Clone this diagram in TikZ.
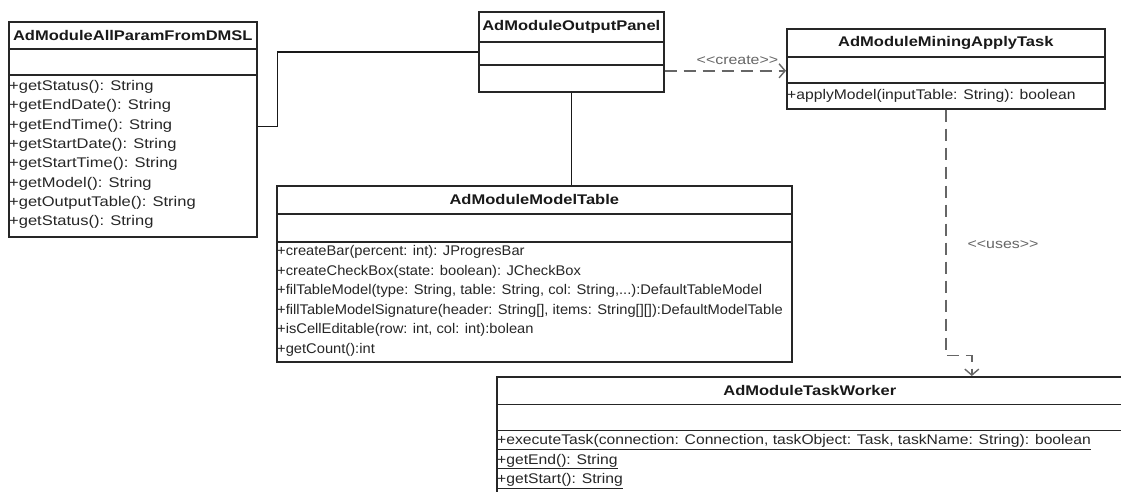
\documentclass[tikz,border=0pt]{standalone}
\usepackage{fontspec}
\setmainfont{Liberation Sans}[FakeStretch=1.18]
\newfontfamily\midfont{Liberation Sans}[FakeStretch=1.12]
\newfontfamily\narrowfont{Liberation Sans}[FakeStretch=1.05]
\usetikzlibrary{arrows.meta,calc}
\begin{document}
\begin{tikzpicture}[x=1pt,y=-1pt,
  cls/.style={draw=black!85, line width=1.6pt, inner sep=0pt, anchor=north west},
  sepline/.style={draw=black!85, line width=1.6pt},
  conn/.style={draw=black!90, line width=1.4pt},
  dep/.style={draw=black!60, line width=1.6pt, dash pattern=on 12pt off 7pt,
    -{Straight Barb[length=6pt,width=14pt,line width=1.4pt]}},
  ttl/.style={font=\fontsize{14}{16}\selectfont\bfseries, text=black!90, inner sep=0pt, anchor=center},
  mth/.style={font=\fontsize{14}{16}\selectfont, text=black!85, inner sep=0pt, anchor=west},
  mthm/.style={mth, font=\fontsize{14}{16}\selectfont\midfont},
  mthn/.style={mth, font=\fontsize{14}{16}\selectfont\narrowfont},
  lbl/.style={font=\fontsize{13.5}{15}\selectfont, text=black!60, inner sep=0pt, anchor=center}
]
\useasboundingbox (0,0) rectangle (1121,491);
\clip (0,0) rectangle (1121,491);
\fill[white] (0,0) rectangle (1121,491);

% ---- AdModuleAllParamFromDMSL
\node[cls, minimum width=248pt, minimum height=215pt] (dmsl) at (8,21) {};
\draw[sepline] ([yshift=-28pt]dmsl.north west) -- ([yshift=-28pt]dmsl.north east);
\draw[sepline] ([yshift=-54pt]dmsl.north west) -- ([yshift=-54pt]dmsl.north east);
\node[ttl] (dmslT) at ([yshift=-14pt]dmsl.north) {AdModuleAllParamFromDMSL};
\node[mth] (d1) at ([xshift=1pt,yshift=-66pt]dmsl.north west) {+getStatus(): String};
\node[mth] (d2) at ([xshift=1pt,yshift=-85.3pt]dmsl.north west) {+getEndDate(): String};
\node[mth] (d3) at ([xshift=1pt,yshift=-104.6pt]dmsl.north west) {+getEndTime(): String};
\node[mth] (d4) at ([xshift=1pt,yshift=-123.9pt]dmsl.north west) {+getStartDate(): String};
\node[mth] (d5) at ([xshift=1pt,yshift=-143.2pt]dmsl.north west) {+getStartTime(): String};
\node[mth] (d6) at ([xshift=1pt,yshift=-162.5pt]dmsl.north west) {+getModel(): String};
\node[mth] (d7) at ([xshift=1pt,yshift=-181.8pt]dmsl.north west) {+getOutputTable(): String};
\node[mth] (d8) at ([xshift=1pt,yshift=-201.1pt]dmsl.north west) {+getStatus(): String};

% ---- AdModuleOutputPanel
\node[cls, minimum width=185pt, minimum height=80pt] (panel) at (478,11) {};
\draw[sepline] ([yshift=-31pt]panel.north west) -- ([yshift=-31pt]panel.north east);
\draw[sepline] ([yshift=-54pt]panel.north west) -- ([yshift=-54pt]panel.north east);
\node[ttl] (panelT) at ([yshift=-15.5pt]panel.north) {AdModuleOutputPanel};

% ---- AdModuleMiningApplyTask
\node[cls, minimum width=318pt, minimum height=80pt] (mat) at (786,28) {};
\draw[sepline] ([yshift=-29pt]mat.north west) -- ([yshift=-29pt]mat.north east);
\draw[sepline] ([yshift=-55pt]mat.north west) -- ([yshift=-55pt]mat.north east);
\node[ttl] (matT) at ([yshift=-14.5pt]mat.north) {AdModuleMiningApplyTask};
\node[mthm] (m1) at ([xshift=1pt,yshift=-68pt]mat.north west) {+applyModel(inputTable: String): boolean};

% ---- AdModuleModelTable
\node[cls, minimum width=515pt, minimum height=176pt] (mt) at (276,185) {};
\draw[sepline] ([yshift=-29pt]mt.north west) -- ([yshift=-29pt]mt.north east);
\draw[sepline] ([yshift=-57pt]mt.north west) -- ([yshift=-57pt]mt.north east);
\node[ttl] (mtT) at ([yshift=-14.5pt]mt.north) {AdModuleModelTable};
\node[mthn] (t1) at ([xshift=1pt,yshift=-67pt]mt.north west) {+createBar(percent: int): JProgresBar};
\node[mthn] (t2) at ([xshift=1pt,yshift=-86.5pt]mt.north west) {+createCheckBox(state: boolean): JCheckBox};
\node[mthn] (t3) at ([xshift=1pt,yshift=-106pt]mt.north west) {+filTableModel(type: String, table: String, col: String,...):DefaultTableModel};
\node[mthn] (t4) at ([xshift=1pt,yshift=-125.5pt]mt.north west) {+fillTableModelSignature(header: String[], items: String[][]):DefaultModelTable};
\node[mthn] (t5) at ([xshift=1pt,yshift=-145pt]mt.north west) {+isCellEditable(row: int, col: int):bolean};
\node[mthn] (t6) at ([xshift=1pt,yshift=-164.5pt]mt.north west) {+getCount():int};

% ---- AdModuleTaskWorker
\node[cls, minimum width=626pt, minimum height=120pt] (tw) at (496,376) {};
\draw[sepline] ([yshift=-28.5pt]tw.north west) -- ([yshift=-28.5pt]tw.north east);
\draw[sepline] ([yshift=-54.5pt]tw.north west) -- ([yshift=-54.5pt]tw.north east);
\node[ttl] (twT) at ([yshift=-14.5pt]tw.north) {AdModuleTaskWorker};
\node[mthm] (w1) at ([xshift=1pt,yshift=-66pt]tw.north west) {\underline{+executeTask(connection: Connection, taskObject: Task, taskName: String): boolean}};
\node[mthm] (w2) at ([xshift=1pt,yshift=-85.5pt]tw.north west) {\underline{+getEnd(): String}};
\node[mthm] (w3) at ([xshift=1pt,yshift=-105pt]tw.north west) {\underline{+getStart(): String}};

% ---- connectors
\draw[conn] ([yshift=3pt]dmsl.east) -- ++(20,0) |- (panel.west);
\draw[conn] (panel.south) -- (panel.south |- mt.north);
\draw[dep] ([yshift=-19pt]panel.east) -- ([yshift=-19pt]panel.east -| mat.west)
  node[lbl, pos=0.6, above=5pt] (createL) {<{}<create>{}>};
\draw[dep] (mat.south) -- ++(0,246) coordinate (ubend) -- ++(26,0) coordinate (ubend2) -- (ubend2 |- tw.north);
\node[lbl] (usesL) at (1003,245) {<{}<uses>{}>};
\end{tikzpicture}
\end{document}
